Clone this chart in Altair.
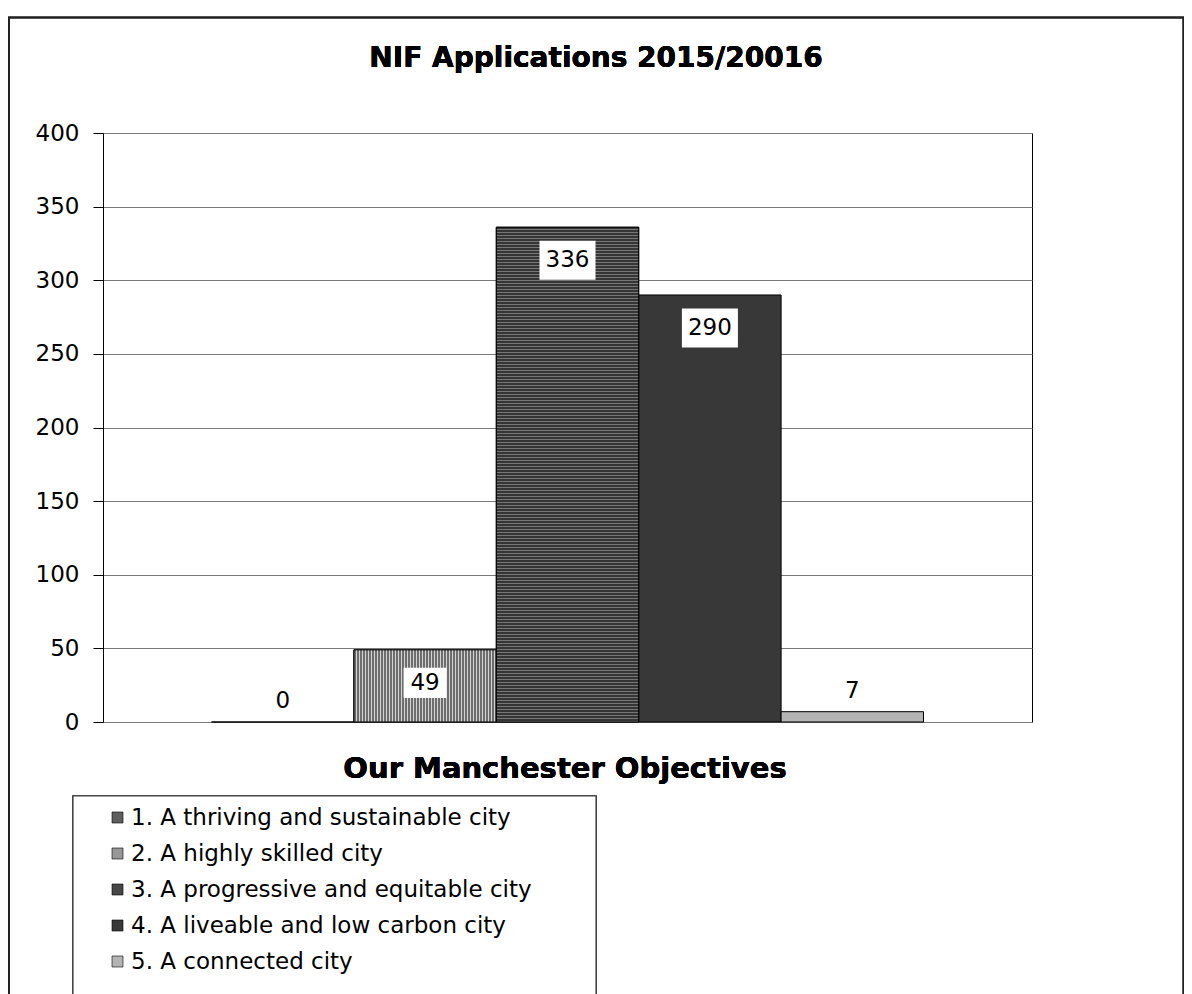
import math
import altair as alt
import pandas as pd

categories = [
    "1. A thriving and sustainable city",
    "2. A highly skilled city",
    "3. A progressive and equitable city",
    "4. A liveable and low carbon city",
    "5. A connected city",
]
values = [0, 49, 336, 290, 7]
bar_colors = ["#5e5e5e", "#979797", "#474747", "#383838", "#b4b4b4"]
y_ticks = [0, 50, 100, 150, 200, 250, 300, 350, 400]

df = pd.DataFrame({"objective": categories, "value": values})

FONT = "DejaVu Sans"
W, H = 929, 589
PAD_OUTER = 0.762
YMAX = 400


def stripes(length_px, dark, light, period=3.0, dark_px=2.0, vertical=True):
    n = max(1, int(math.ceil(length_px / period)))
    stops = []
    for k in range(n):
        a = min(1.0, k * period / length_px)
        b = min(1.0, (k * period + dark_px) / length_px)
        c = min(1.0, (k + 1) * period / length_px)
        stops += [
            {"offset": round(a, 5), "color": dark},
            {"offset": round(b, 5), "color": dark},
            {"offset": round(b, 5), "color": light},
            {"offset": round(c, 5), "color": light},
        ]
    g = {"gradient": "linear", "stops": stops, "x1": 0, "y1": 0}
    if vertical:
        g.update({"x2": 1, "y2": 0})
    else:
        g.update({"x2": 0, "y2": 1})
    return g


x_enc = alt.X(
    "objective:N",
    sort=categories,
    axis=None,
    scale=alt.Scale(paddingInner=0, paddingOuter=PAD_OUTER),
)
y_enc = alt.Y(
    "value:Q",
    scale=alt.Scale(domain=[0, YMAX], nice=False),
    axis=alt.Axis(
        values=y_ticks,
        title=None,
        grid=True,
        gridColor="#7a7a7a",
        gridWidth=1,
        domainColor="#000000",
        domainWidth=1,
        tickColor="#000000",
        tickSize=10,
        labelFont=FONT,
        labelFontSize=23,
        labelColor="#000000",
        labelPadding=14,
    ),
)

bars = alt.Chart(df).mark_bar(stroke="#000000", strokeWidth=1).encode(
    x=x_enc,
    y=y_enc,
    color=alt.Color(
        "objective:N",
        sort=categories,
        scale=alt.Scale(domain=categories, range=bar_colors),
        legend=alt.Legend(
            title=None,
            orient="none",
            legendX=3,
            legendY=673,
            symbolType="square",
            symbolSize=121,
            symbolStrokeColor="#000000",
            symbolStrokeWidth=0.6,
            symbolOpacity=1,
            labelFont=FONT,
            labelFontSize=23,
            labelColor="#000000",
            labelOffset=2,
            labelLimit=600,
            rowPadding=12,
            padding=0,
        ),
    ),
)

# textured overlays (striped fills) for bars 2 and 3
step = W / (len(categories) + 2 * PAD_OUTER)
tex_layers = []
tex_specs = {
    1: dict(dark="#6e6e6e", light="#d2d2d2", vertical=True),
    2: dict(dark="#353535", light="#777777", vertical=False),
}
for idx, spec in tex_specs.items():
    length = step if spec["vertical"] else values[idx] / YMAX * H
    grad = stripes(length, spec["dark"], spec["light"], vertical=spec["vertical"])
    layer = (
        alt.Chart(df)
        .transform_filter(alt.datum.objective == categories[idx])
        .mark_bar(fill=grad, stroke="#000000", strokeWidth=1)
        .encode(x=alt.X("objective:N", sort=categories), y=alt.Y("value:Q"))
    )
    tex_layers.append(layer)

box_path = "M-1,-0.7L1,-0.7L1,0.7L-1,0.7Z"

inside = (
    alt.Chart(df)
    .transform_filter("datum.value >= 40")
    .transform_calculate(
        lbl="'' + datum.value",
        boxsize="pow(13 * length('' + datum.value) + 17, 2)",
    )
)
boxes = inside.mark_point(
    shape=box_path, filled=True, color="#ffffff", opacity=1, yOffset=33
).encode(
    x=alt.X("objective:N", sort=categories),
    y=alt.Y("value:Q"),
    size=alt.Size("boxsize:Q", scale=None, legend=None),
)
in_text = inside.mark_text(
    font=FONT, fontSize=23, color="#000000", dy=33, baseline="middle"
).encode(
    x=alt.X("objective:N", sort=categories),
    y=alt.Y("value:Q"),
    text="lbl:N",
)
out_text = (
    alt.Chart(df)
    .transform_filter("datum.value < 40")
    .transform_calculate(lbl="'' + datum.value")
    .mark_text(font=FONT, fontSize=23, color="#000000", dy=-21, baseline="middle")
    .encode(
        x=alt.X("objective:N", sort=categories),
        y=alt.Y("value:Q"),
        text="lbl:N",
    )
)

frame = alt.Chart(df).mark_rect(
    fill=None, stroke="#222222", strokeWidth=1.5, clip=False
).encode(
    x=alt.value(-94.2), x2=alt.value(1080.5), y=alt.value(-115.5), y2=alt.value(900)
)
legend_box = alt.Chart(df).mark_rect(
    fill="#ffffff", stroke="#444444", strokeWidth=1.2, clip=False
).encode(
    x=alt.value(-30), x2=alt.value(493), y=alt.value(663), y2=alt.value(900)
)
title = alt.Chart(df).mark_text(
    text="NIF Applications 2015/20016",
    font=FONT, fontSize=28, fontWeight="bold", color="#000000",
    align="center", baseline="alphabetic",
).encode(x=alt.value(493), y=alt.value(-66))
xtitle = alt.Chart(df).mark_text(
    text="Our Manchester Objectives",
    font=FONT, fontSize=29, fontWeight="bold", color="#000000",
    align="center", baseline="alphabetic",
).encode(x=alt.value(462), y=alt.value(645))

chart = (
    alt.layer(frame, legend_box, bars, *tex_layers, boxes, in_text, out_text, title, xtitle)
    .properties(
        width=W,
        height=H,
        autosize=alt.AutoSizeParams(type="none"),
        padding={"left": 95, "top": 125, "right": 152, "bottom": 290},
    )
    .configure_view(stroke="#000000", strokeWidth=1)
)

chart.save("out.html", embed_options={"renderer": "svg", "actions": False})
